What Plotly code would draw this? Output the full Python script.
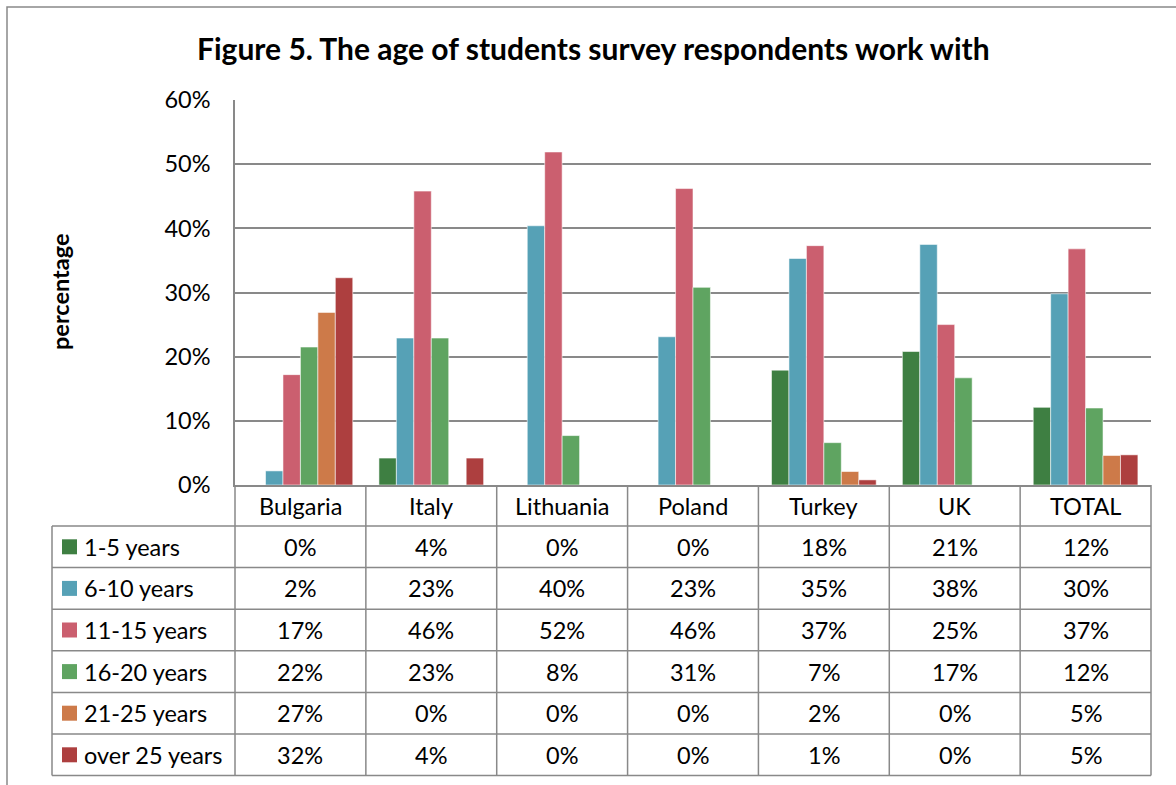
import plotly.graph_objects as go

countries = ["Bulgaria", "Italy", "Lithuania", "Poland", "Turkey", "UK", "TOTAL"]
series_names = ["1-5 years", "6-10 years", "11-15 years", "16-20 years", "21-25 years", "over 25 years"]

age_1_5 = [0.0, 4.2, 0.0, 0.0, 17.9, 20.8, 12.1]
age_6_10 = [2.2, 22.9, 40.4, 23.1, 35.3, 37.5, 29.8]
age_11_15 = [17.2, 45.8, 51.9, 46.2, 37.3, 25.0, 36.8]
age_16_20 = [21.5, 22.9, 7.7, 30.8, 6.6, 16.7, 12.0]
age_21_25 = [26.9, 0.0, 0.0, 0.0, 2.1, 0.0, 4.6]
age_over_25 = [32.3, 4.2, 0.0, 0.0, 0.8, 0.0, 4.7]

series_values = [age_1_5, age_6_10, age_11_15, age_16_20, age_21_25, age_over_25]
colors = ["#3E7F42", "#56A1B6", "#CB5F6F", "#5FA461", "#CD7A49", "#AD3F3F"]

y_ticks = [0, 10, 20, 30, 40, 50, 60]
y_tick_labels = [f"{t}%" for t in y_ticks]

title_text = "Figure 5. The age of students survey respondents work with"
y_title = "percentage"

W, H = 1176, 785
L, R, T, B = 235, 1151, 100, 485  # plot area in pixels
FONT = "Lato, Carlito, Calibri, sans-serif"
GRID = "#898989"
FS = 23.5

def px2x(px):
    return (px - L) / (R - L)

def px2y(py):
    return (B - py) / (B - T)

fig = go.Figure()
for name, vals, col in zip(series_names, series_values, colors):
    fig.add_trace(go.Bar(
        x=countries, y=vals, name=name,
        marker=dict(color=col, line=dict(color="rgba(255,255,255,0.55)", width=1)),
        showlegend=False,
    ))

shapes = []
annotations = []

# outer chart border
shapes.append(dict(type="rect", xref="paper", yref="paper",
                   x0=px2x(7), x1=px2x(W + 10), y0=px2y(7), y1=px2y(H + 10),
                   line=dict(color=GRID, width=1.5), fillcolor="rgba(0,0,0,0)", layer="below"))

# data table
n_cat = len(countries)
cat_w = (R - L) / n_cat
header_bottom = 526
row_h = 41.6
table_bottom = header_bottom + row_h * len(series_names)
table_left = 52
line_style = dict(color=GRID, width=1.5)

for k in range(n_cat + 1):
    xp = L + k * cat_w
    shapes.append(dict(type="line", xref="paper", yref="paper",
                       x0=px2x(xp), x1=px2x(xp), y0=px2y(B), y1=px2y(table_bottom),
                       line=line_style))
shapes.append(dict(type="line", xref="paper", yref="paper",
                   x0=px2x(table_left), x1=px2x(table_left),
                   y0=px2y(header_bottom), y1=px2y(table_bottom), line=line_style))
for i in range(len(series_names) + 1):
    yp = header_bottom + i * row_h
    shapes.append(dict(type="line", xref="paper", yref="paper",
                       x0=px2x(table_left), x1=px2x(R), y0=px2y(yp), y1=px2y(yp),
                       line=line_style))

for k, c in enumerate(countries):
    annotations.append(dict(xref="paper", yref="paper",
                            x=px2x(L + (k + 0.5) * cat_w), y=px2y((B + header_bottom) / 2),
                            text=c, showarrow=False, xanchor="center", yanchor="middle",
                            font=dict(family=FONT, size=FS, color="#000")))

for i, (name, vals, col) in enumerate(zip(series_names, series_values, colors)):
    yc = header_bottom + (i + 0.5) * row_h
    shapes.append(dict(type="rect", xref="paper", yref="paper",
                       x0=px2x(62), x1=px2x(77), y0=px2y(yc - 7.5), y1=px2y(yc + 7.5),
                       fillcolor=col, line=dict(width=0)))
    annotations.append(dict(xref="paper", yref="paper", x=px2x(82), y=px2y(yc),
                            text=name, showarrow=False, xanchor="left", yanchor="middle",
                            font=dict(family=FONT, size=FS, color="#000")))
    for k, v in enumerate(vals):
        annotations.append(dict(xref="paper", yref="paper",
                                x=px2x(L + (k + 0.5) * cat_w), y=px2y(yc),
                                text=f"{int(v + 0.5)}%", showarrow=False,
                                xanchor="center", yanchor="middle",
                                font=dict(family=FONT, size=FS, color="#000")))

annotations.append(dict(xref="paper", yref="paper", x=px2x(593), y=px2y(48),
                        text=f"<b>{title_text}</b>", showarrow=False,
                        xanchor="center", yanchor="middle",
                        font=dict(family=FONT, size=30, color="#000")))
annotations.append(dict(xref="paper", yref="paper", x=px2x(60), y=px2y(292),
                        text=f"<b>{y_title}</b>", showarrow=False, textangle=-90,
                        xanchor="center", yanchor="middle",
                        font=dict(family=FONT, size=FS, color="#000")))

fig.update_layout(
    width=W, height=H, autosize=False,
    margin=dict(l=L, r=W - R, t=T, b=H - B, pad=0),
    paper_bgcolor="white", plot_bgcolor="white",
    barmode="group", bargap=0.2, bargroupgap=0,
    shapes=shapes, annotations=annotations,
    font=dict(family=FONT, size=FS, color="#000"),
    xaxis=dict(showticklabels=False, showgrid=False, zeroline=False,
               showline=True, linecolor=GRID, linewidth=2, ticks=""),
    yaxis=dict(range=[0, 60], tickvals=y_ticks, ticktext=y_tick_labels,
               showgrid=True, gridcolor=GRID, gridwidth=1.5, zeroline=False,
               showline=True, linecolor=GRID, linewidth=1.5, ticks="",
               ticklabelstandoff=18, tickfont=dict(family=FONT, size=FS, color="#000")),
)

fig.write_html("out.html")
